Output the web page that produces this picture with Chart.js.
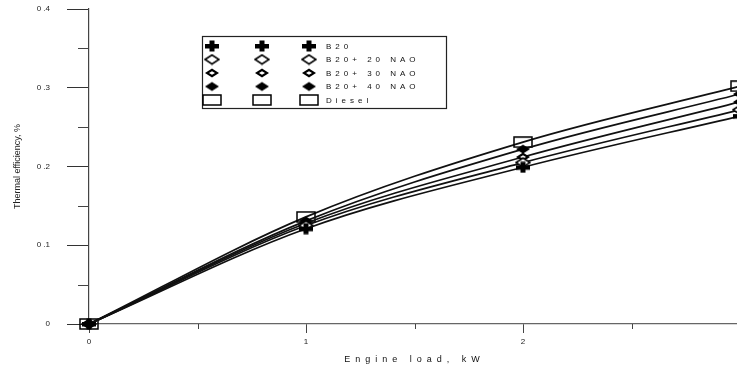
<!DOCTYPE html>
<html>
<head>
<meta charset="utf-8">
<script src="https://cdn.jsdelivr.net/npm/chart.js@4.4.1/dist/chart.umd.min.js"></script>
<style>
body { margin: 0; overflow: hidden; background: #fff; }
#wrap { width: 750px; height: 366px; }
</style>
</head>
<body>
<div id="wrap"><canvas id="efficiency" width="750" height="366"></canvas></div>
<script>
var engineLoad = [0, 1, 2, 3];
var b20 = [0, 0.121, 0.199, 0.264];
var b20nao20 = [0, 0.125, 0.205, 0.272];
var b20nao30 = [0, 0.128, 0.212, 0.282];
var b20nao40 = [0, 0.131, 0.222, 0.292];
var diesel = [0, 0.136, 0.231, 0.302];
var seriesNames = ['B20', 'B20+ 20 NAO', 'B20+ 30 NAO', 'B20+ 40 NAO', 'Diesel'];
var yTickLabels = ['0', '0 .1', '0 .2', '0 .3', '0 .4'];
var xTickLabels = ['0', '1', '2', '3'];

function makeMarker(kind) {
    var c = document.createElement('canvas');
    c.width = kind === 'rect' ? 20 : 16;
    c.height = 12;
    var g = c.getContext('2d');
    g.fillStyle = '#000';
    g.strokeStyle = '#000';
    if (kind === 'cross') {
        g.fillRect(1, 4, 14, 4.5);
        g.fillRect(5.5, 0.5, 5, 11);
    } else if (kind === 'rect') {
        g.lineWidth = 1.5;
        g.strokeRect(1, 1, 18, 10);
    } else {
        g.beginPath();
        g.moveTo(1, 6); g.lineTo(8, 1.5); g.lineTo(15, 6); g.lineTo(8, 10.5);
        g.closePath();
        if (kind === 'open') {
            g.fillStyle = '#fff';
            g.fill();
            g.lineWidth = 1.5;
            g.stroke();
        } else {
            g.fill();
        }
        if (kind === 'dot') {
            g.fillStyle = '#fff';
            g.beginPath();
            g.moveTo(5, 6); g.lineTo(8, 4.3); g.lineTo(11, 6); g.lineTo(8, 7.7);
            g.closePath();
            g.fill();
        }
    }
    return c;
}

function series(label, values, marker) {
    return {
        label: label,
        data: engineLoad.map(function(x, i) { return { x: x, y: values[i] }; }),
        borderColor: '#111',
        borderWidth: 1.7,
        pointStyle: makeMarker(marker),
        pointRadius: 6,
        cubicInterpolationMode: 'monotone',
        clip: false
    };
}

var extras = {
    id: 'extras',
    afterDraw: function(chart) {
        var ctx = chart.ctx;
        var xs = chart.scales.x, ys = chart.scales.y;
        ctx.save();

        // minor ticks
        ctx.strokeStyle = '#444';
        ctx.lineWidth = 1;
        ctx.beginPath();
        for (var v = 0.05; v < 0.4; v += 0.1) {
            var py = Math.round(ys.getPixelForValue(v)) + 0.5;
            ctx.moveTo(xs.left - 11, py);
            ctx.lineTo(xs.left, py);
        }
        for (var u = 0.5; u < 3; u += 1) {
            var px = Math.round(xs.getPixelForValue(u)) + 0.5;
            ctx.moveTo(px, ys.bottom);
            ctx.lineTo(px, ys.bottom + 5);
        }
        ctx.stroke();

        // x axis title
        ctx.fillStyle = '#111';
        ctx.font = '9px "Liberation Sans", Arial, sans-serif';
        ctx.letterSpacing = '5px';
        ctx.textAlign = 'center';
        ctx.textBaseline = 'middle';
        ctx.fillText('Engine load, kW', (xs.left + xs.right) / 2, 360);

        // legend
        ctx.strokeStyle = '#222';
        ctx.lineWidth = 1.2;
        ctx.strokeRect(202.5, 36.5, 244, 72);
        ctx.font = '8px "Liberation Sans", Arial, sans-serif';
        ctx.letterSpacing = '4px';
        ctx.textAlign = 'left';
        var cols = [212, 262, 309];
        chart.data.datasets.forEach(function(ds, i) {
            var ry = 46 + i * 13.5;
            var img = ds.pointStyle;
            cols.forEach(function(cx) {
                ctx.drawImage(img, cx - img.width / 2, ry - img.height / 2);
            });
            ctx.fillText(ds.label, 326, ry + 0.5);
        });
        ctx.restore();
    }
};

var ctx = document.getElementById('efficiency').getContext('2d');
var chart = new Chart(ctx, {
    type: 'line',
    data: {
        datasets: [
            series(seriesNames[0], b20, 'cross'),
            series(seriesNames[1], b20nao20, 'open'),
            series(seriesNames[2], b20nao30, 'dot'),
            series(seriesNames[3], b20nao40, 'fill'),
            series(seriesNames[4], diesel, 'rect')
        ]
    },
    options: {
        responsive: false,
        animation: false,
        layout: { autoPadding: false, padding: { top: 9, right: 10, bottom: 0, left: 0 } },
        plugins: { legend: { display: false }, tooltip: { enabled: false } },
        scales: {
            x: {
                type: 'linear',
                min: 0,
                max: 3,
                afterFit: function(scale) {
                    scale.height = 42;
                    scale.paddingLeft = 0;
                    scale.paddingRight = 0;
                },
                ticks: {
                    stepSize: 1,
                    padding: 4,
                    color: '#222',
                    font: { size: 8, family: '"Liberation Sans", Arial, sans-serif' },
                    callback: function(v) { return xTickLabels[Math.round(v)]; }
                },
                grid: { drawOnChartArea: false, tickLength: 9, tickColor: '#444' },
                border: { color: '#666', width: 1.2 }
            },
            y: {
                min: 0,
                max: 0.4,
                afterFit: function(scale) {
                    scale.width = 89;
                    scale.paddingTop = 0;
                    scale.paddingBottom = 0;
                },
                ticks: {
                    stepSize: 0.1,
                    padding: 17,
                    color: '#222',
                    font: { size: 8, family: '"Liberation Sans", Arial, sans-serif' },
                    callback: function(v) { return yTickLabels[Math.round(v * 10)]; }
                },
                grid: { drawOnChartArea: false, tickLength: 22, tickColor: '#333' },
                border: { color: '#444', width: 1.2 },
                title: {
                    display: true,
                    text: 'Thermal efficiency, %',
                    color: '#222',
                    padding: { top: 12, bottom: 0 },
                    font: { size: 9, family: '"Liberation Sans", Arial, sans-serif' }
                }
            }
        }
    },
    plugins: [extras]
});
</script>
</body>
</html>
